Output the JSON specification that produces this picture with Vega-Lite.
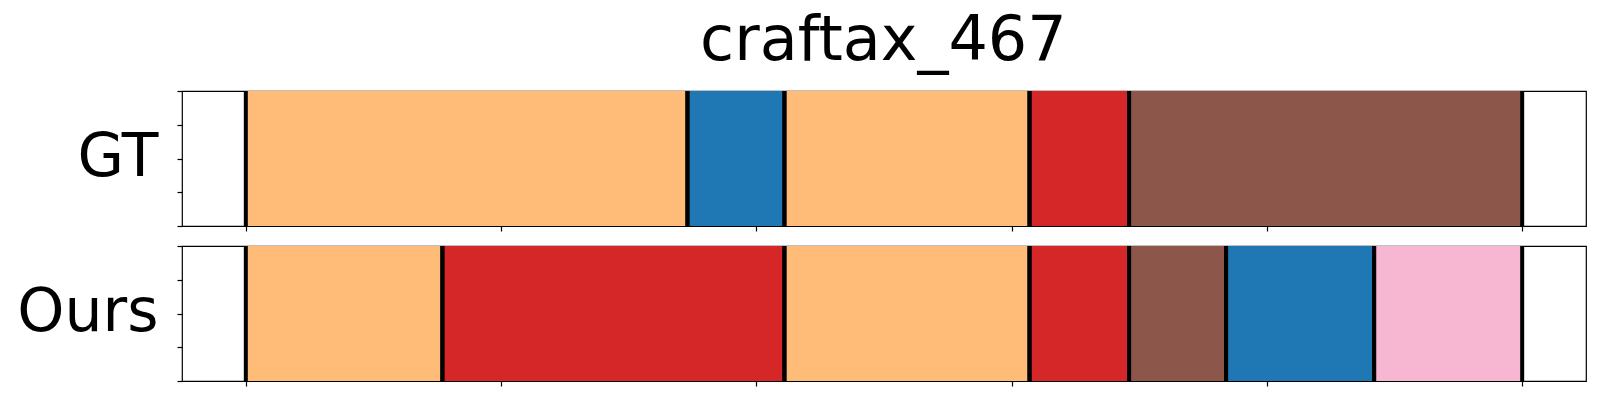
{
  "$schema": "https://vega.github.io/schema/vega-lite/v6.json",
  "padding": {"left": 16, "top": 10, "right": 0, "bottom": 0},
  "background": "white",
  "title": {"text": "craftax_467", "fontSize": 62, "font": "DejaVu Sans", "fontWeight": "normal", "anchor": "middle", "baseline": "alphabetic", "offset": -34, "dx": 82, "color": "black"},
  "config": {
    "view": {"stroke": "black", "strokeWidth": 1.2},
    "axis": {"grid": false, "domain": false, "labels": false, "ticks": true, "tickColor": "black", "tickSize": 5, "tickWidth": 1.2, "titleFont": "DejaVu Sans", "titleFontWeight": "normal", "titleColor": "black"},
    "concat": {"spacing": 10}
  },
  "datasets": {
    "gt": [
      {"start": 0, "end": 173, "cls": "c_orange"},
      {"start": 173, "end": 211, "cls": "c_blue"},
      {"start": 211, "end": 307, "cls": "c_orange"},
      {"start": 307, "end": 346, "cls": "c_red"},
      {"start": 346, "end": 500, "cls": "c_brown"}
    ],
    "ours": [
      {"start": 0, "end": 77, "cls": "c_orange"},
      {"start": 77, "end": 211, "cls": "c_red"},
      {"start": 211, "end": 307, "cls": "c_orange"},
      {"start": 307, "end": 346, "cls": "c_red"},
      {"start": 346, "end": 384, "cls": "c_brown"},
      {"start": 384, "end": 442, "cls": "c_blue"},
      {"start": 442, "end": 500, "cls": "c_pink"}
    ]
  },
  "vconcat": [
    {
      "width": 1404,
      "height": 135,
      "data": {"name": "gt"},
      "layer": [
        {
          "mark": {"type": "rect"},
          "encoding": {
            "x": {"field": "start", "type": "quantitative", "scale": {"domain": [-25, 525], "nice": false, "zero": false}, "axis": {"values": [0, 100, 200, 300, 400, 500], "title": null}},
            "x2": {"field": "end"},
            "y": {"datum": 0, "type": "quantitative", "scale": {"domain": [0, 1], "nice": false}, "axis": {"values": [0, 0.25, 0.5, 0.75, 1], "title": "GT", "titleAngle": 0, "titleFontSize": 60, "titleAlign": "right", "titleBaseline": "alphabetic", "titleX": -24, "titleY": 84}},
            "y2": {"datum": 1},
            "color": {"field": "cls", "type": "nominal", "scale": {"domain": ["c_orange", "c_blue", "c_red", "c_brown", "c_pink"], "range": ["#ffbb78", "#1f77b4", "#d62728", "#8c564b", "#f7b6d2"]}, "legend": null}
          }
        },
        {
          "mark": {"type": "rule", "color": "black", "strokeWidth": 4},
          "encoding": {"x": {"field": "start", "type": "quantitative"}}
        },
        {
          "mark": {"type": "rule", "color": "black", "strokeWidth": 4},
          "encoding": {"x": {"field": "end", "type": "quantitative"}}
        }
      ]
    },
    {
      "width": 1404,
      "height": 135,
      "data": {"name": "ours"},
      "layer": [
        {
          "mark": {"type": "rect"},
          "encoding": {
            "x": {"field": "start", "type": "quantitative", "scale": {"domain": [-25, 525], "nice": false, "zero": false}, "axis": {"values": [0, 100, 200, 300, 400, 500], "title": null}},
            "x2": {"field": "end"},
            "y": {"datum": 0, "type": "quantitative", "scale": {"domain": [0, 1], "nice": false}, "axis": {"values": [0, 0.25, 0.5, 0.75, 1], "title": "Ours", "titleAngle": 0, "titleFontSize": 60, "titleAlign": "right", "titleBaseline": "alphabetic", "titleX": -24, "titleY": 84}},
            "y2": {"datum": 1},
            "color": {"field": "cls", "type": "nominal", "scale": {"domain": ["c_orange", "c_blue", "c_red", "c_brown", "c_pink"], "range": ["#ffbb78", "#1f77b4", "#d62728", "#8c564b", "#f7b6d2"]}, "legend": null}
          }
        },
        {
          "mark": {"type": "rule", "color": "black", "strokeWidth": 4},
          "encoding": {"x": {"field": "start", "type": "quantitative"}}
        },
        {
          "mark": {"type": "rule", "color": "black", "strokeWidth": 4},
          "encoding": {"x": {"field": "end", "type": "quantitative"}}
        }
      ]
    }
  ]
}
